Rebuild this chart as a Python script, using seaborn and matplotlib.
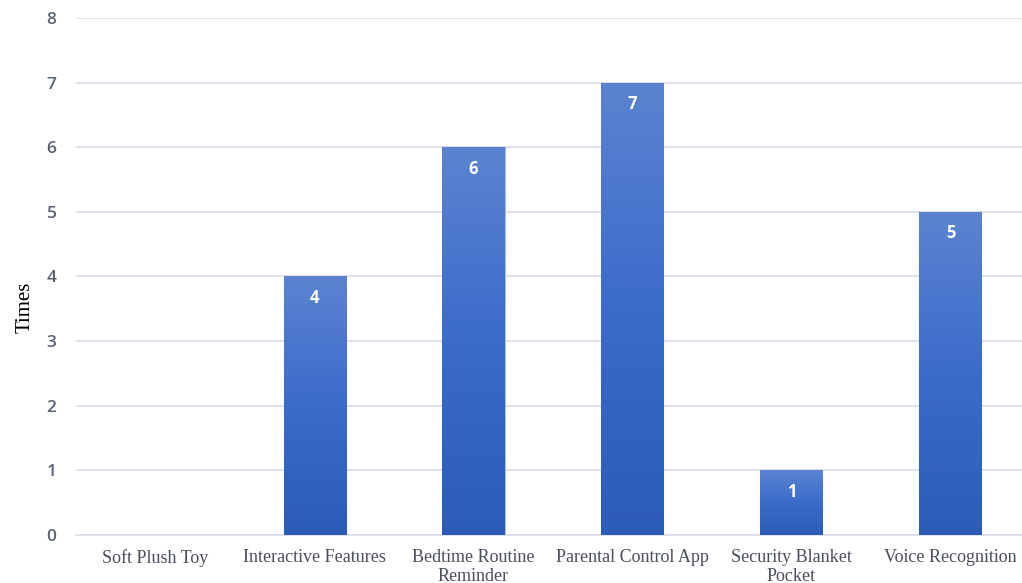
import numpy as np
import pandas as pd
import seaborn as sns
import matplotlib.pyplot as plt
from matplotlib.colors import LinearSegmentedColormap

# Data
categories = ['Soft Plush Toy', 'Interactive Features', 'Bedtime Routine\nReminder',
              'Parental Control App', 'Security Blanket\nPocket', 'Voice Recognition']
times = [0, 4, 6, 7, 1, 5]
y_ticks = [0, 1, 2, 3, 4, 5, 6, 7, 8]

df = pd.DataFrame({'feature': categories, 'times': times})

sns.set_style('white')
plt.rcParams['font.family'] = ['Liberation Serif', 'DejaVu Serif']

fig = plt.figure(figsize=(10.22, 5.83), dpi=100)
ax = fig.add_axes([0.0744, 0.0823, 0.9256, 0.887])

sns.barplot(data=df, x='feature', y='times', ax=ax, color='#3f6cc6',
            width=0.39, edgecolor='#a9bde6', linewidth=0.8, zorder=3)

# Gradient fill for every bar, clipped to the bar shape
cmap = LinearSegmentedColormap.from_list('bar_grad', ['#2c5cb8', '#3b6bcb', '#5b83d0'])
grad = np.linspace(0, 1, 256).reshape(-1, 1)
for patch in ax.patches:
    x0, y0 = patch.get_x(), patch.get_y()
    w, h = patch.get_width(), patch.get_height()
    if h <= 0:
        continue
    im = ax.imshow(grad, cmap=cmap, origin='lower', aspect='auto',
                   extent=[x0, x0 + w, y0, y0 + h], zorder=3.5)
    im.set_clip_path(patch)
    ax.text(x0 + w / 2, y0 + h - 0.33, f'{int(h)}', ha='center', va='center',
            color='white', fontsize=12, fontweight='bold', family=['Open Sans', 'DejaVu Sans'],
            zorder=5)
ax.set_xlim(-0.5, 5.45)
ax.set_ylim(0, 8)

# Grid and axes
ax.set_yticks(y_ticks)
ax.yaxis.grid(True, color='#d9dde6', linewidth=1.2, zorder=0)
ax.set_axisbelow(True)
for s in ['top', 'right', 'left']:
    ax.spines[s].set_visible(False)
ax.spines['bottom'].set_color('#d9dde6')
ax.spines['bottom'].set_linewidth(1.2)

ax.tick_params(axis='y', length=0, pad=14, labelcolor='#5a6275')
for lbl in ax.get_yticklabels():
    lbl.set_family(['Open Sans', 'DejaVu Sans'])
    lbl.set_fontweight('semibold')
    lbl.set_fontsize(12.5)
ax.tick_params(axis='x', length=0, pad=10, labelcolor='#4a4f5c', labelsize=13)
for lbl in ax.get_xticklabels():
    lbl.set_linespacing(1.15)

ax.set_xlabel('')
ax.set_ylabel('Times', fontsize=15, color='black')
ax.yaxis.set_label_coords(-0.044, 0.44)

fig.savefig('out.png', dpi=100)
